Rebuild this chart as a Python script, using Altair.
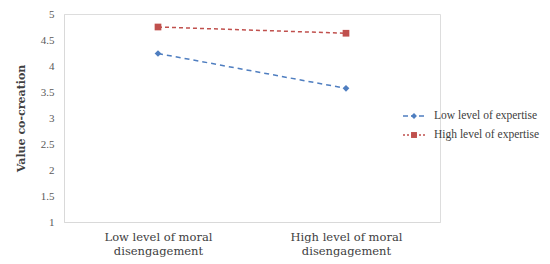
import altair as alt
import pandas as pd

categories = ["Low level  of moral|disengagement", "High level  of moral|disengagement"]
series = ["Low level of expertise", "High level of expertise"]
low_expertise = [4.24, 3.57]
high_expertise = [4.75, 4.63]
y_ticks = [1, 1.5, 2, 2.5, 3, 3.5, 4, 4.5, 5]

rows = []
for c, v in zip(categories, low_expertise):
    rows.append({"cond": c, "series": series[0], "value": v})
for c, v in zip(categories, high_expertise):
    rows.append({"cond": c, "series": series[1], "value": v})
df = pd.DataFrame(rows)

BLUE = "#4F7EC0"
RED = "#C0504D"
FONT = "DejaVu Serif"
LFONT = "Liberation Serif"

x_enc = alt.X("cond:N", sort=categories,
              scale=alt.Scale(type="point", padding=0.5),
              axis=alt.Axis(title=None, labelAngle=0, ticks=False, domainColor="#d9d9d9",
                            labelExpr="split(datum.value, '|')", labelFont=FONT,
                            labelFontSize=11.5, labelColor="#404040", labelPadding=9,
                            labelLineHeight=14))
y_enc = alt.Y("value:Q", scale=alt.Scale(domain=[1, 5], nice=False, zero=False),
              axis=alt.Axis(values=y_ticks, format="~g", title="Value co-creation", grid=False,
                            ticks=False, domainColor="#d9d9d9", labelFont=LFONT, labelFontSize=11,
                            labelColor="#595959", labelPadding=10, titleFont=FONT,
                            titleFontSize=11, titleFontWeight="bold", titleColor="#404040",
                            titlePadding=14))

def series_layers(name, color, dash, shape):
    d = df[df["series"] == name]
    base = alt.Chart(d).encode(x=x_enc, y=y_enc)
    line = base.mark_line(color=color, strokeDash=dash, strokeWidth=1.5)
    pts = base.mark_point(color=color, filled=True, shape=shape, size=45, opacity=1)
    return [line, pts]

def legend_layers(name, color, dash, shape, ypos):
    d = pd.DataFrame({"label": [name]})
    base = alt.Chart(d)
    rule = base.mark_rule(color=color, strokeDash=dash, strokeWidth=1.3).encode(
        x=alt.value(339), x2=alt.value(361), y=alt.value(ypos))
    pt = base.mark_point(color=color, filled=True, shape=shape, size=35, opacity=1).encode(
        x=alt.value(350), y=alt.value(ypos))
    txt = base.mark_text(align="left", baseline="middle", font=LFONT, fontSize=11.5,
                         color="#404040").encode(x=alt.value(370), y=alt.value(ypos), text="label:N")
    return [rule, pt, txt]

layers = []
layers += series_layers(series[0], BLUE, [5, 4], "diamond")
layers += series_layers(series[1], RED, [4, 3], "square")
layers += legend_layers(series[0], BLUE, [5, 3], "diamond", 102)
layers += legend_layers(series[1], RED, [2, 2], "square", 121)

chart = alt.layer(*layers).properties(
    width=376, height=208,
    autosize=alt.AutoSizeParams(type="none"),
    padding={"left": 56, "top": 6, "right": 102, "bottom": 42},
).configure_view(stroke=None).configure(background="white")

chart.save("out.html", embed_options={"renderer": "svg", "actions": False})
